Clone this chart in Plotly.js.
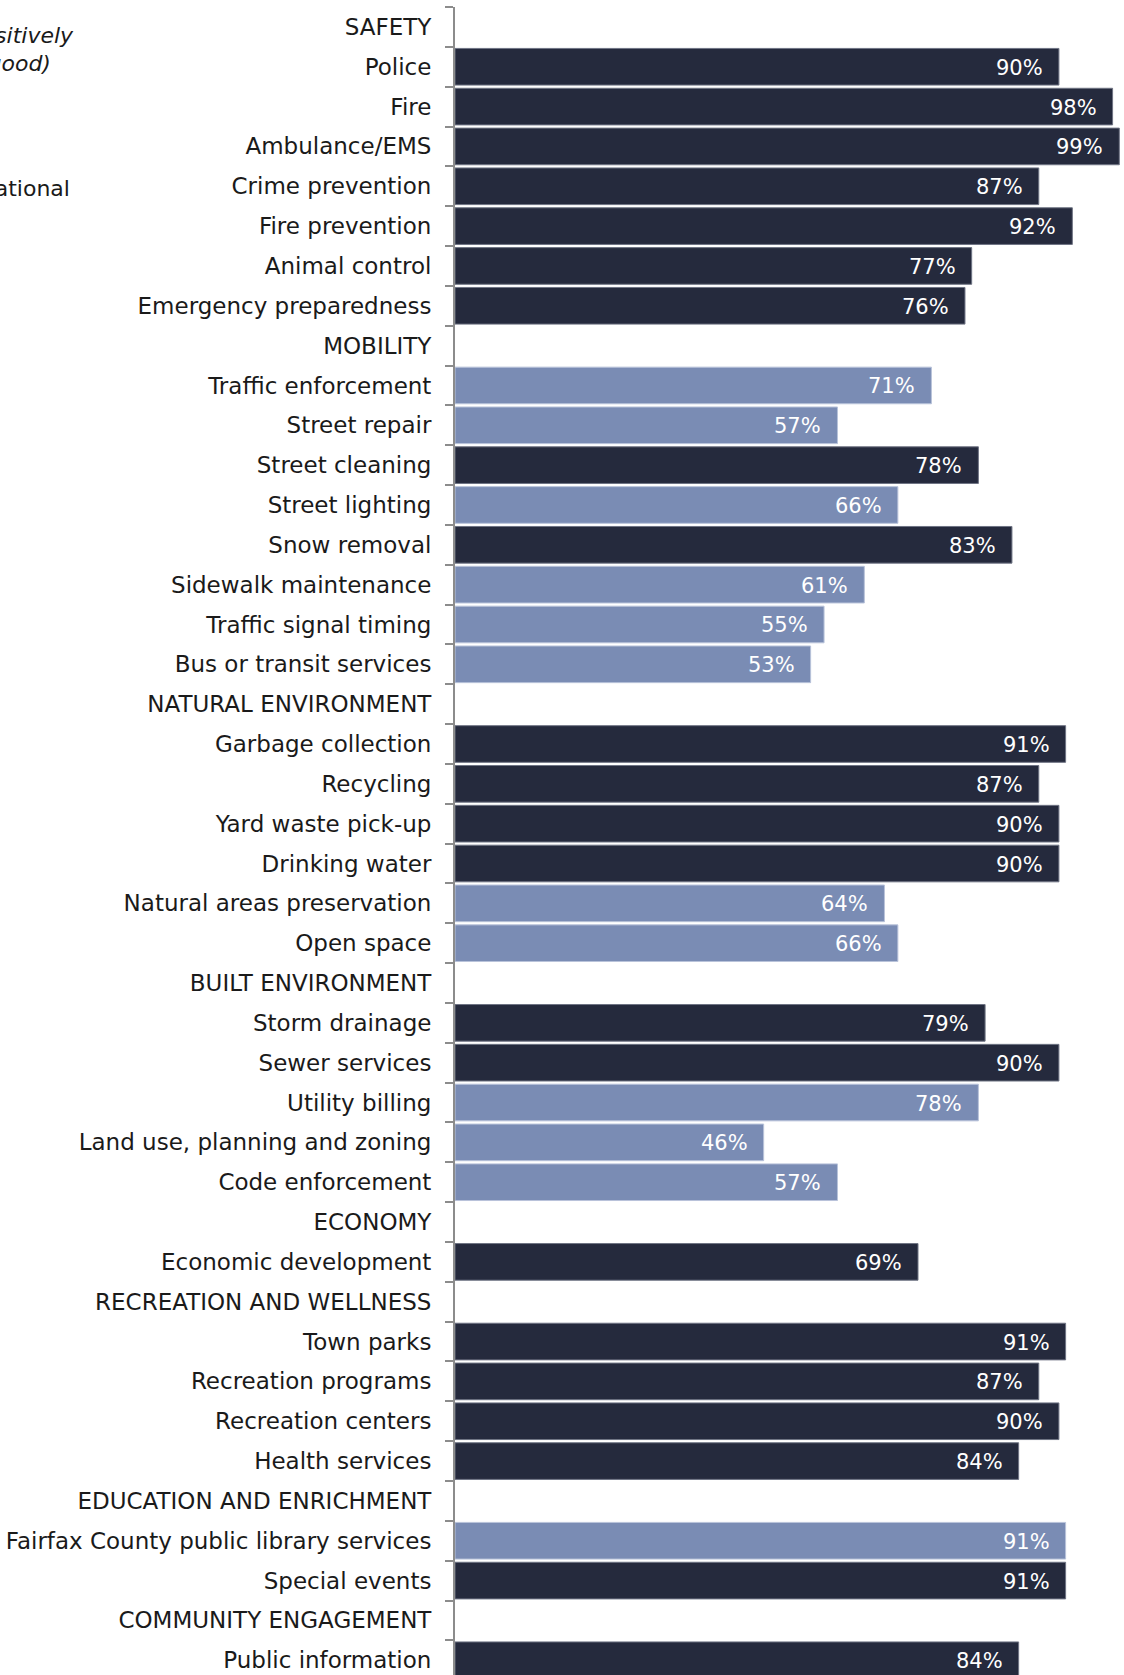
<!DOCTYPE html>
<html>
<head>
<meta charset="utf-8">
<script src="https://cdn.plot.ly/plotly-3.0.1.min.js"></script>
<style>
  html, body { margin: 0; padding: 0; background: #ffffff; }
  #chart { width: 1124px; height: 1675px; }
</style>
</head>
<body>
<div id="chart"></div>
<script>
// ---- data ----
const categories = [
  "SAFETY", "Police", "Fire", "Ambulance/EMS", "Crime prevention", "Fire prevention", "Animal control", "Emergency preparedness",
  "MOBILITY", "Traffic enforcement", "Street repair", "Street cleaning", "Street lighting", "Snow removal", "Sidewalk maintenance", "Traffic signal timing", "Bus or transit services",
  "NATURAL ENVIRONMENT", "Garbage collection", "Recycling", "Yard waste pick-up", "Drinking water", "Natural areas preservation", "Open space",
  "BUILT ENVIRONMENT", "Storm drainage", "Sewer services", "Utility billing", "Land use, planning and zoning", "Code enforcement",
  "ECONOMY", "Economic development",
  "RECREATION AND WELLNESS", "Town parks", "Recreation programs", "Recreation centers", "Health services",
  "EDUCATION AND ENRICHMENT", "Fairfax County public library services", "Special events",
  "COMMUNITY ENGAGEMENT", "Public information"
];
const percentPositive = [
  null, 90, 98, 99, 87, 92, 77, 76,
  null, 71, 57, 78, 66, 83, 61, 55, 53,
  null, 91, 87, 90, 90, 64, 66,
  null, 79, 90, 78, 46, 57,
  null, 69,
  null, 91, 87, 90, 84,
  null, 91, 91,
  null, 84
];
const comparisonToNational = [
  null, "similar", "similar", "similar", "similar", "similar", "similar", "similar",
  null, "lower", "lower", "similar", "lower", "similar", "lower", "lower", "lower",
  null, "similar", "similar", "similar", "similar", "lower", "lower",
  null, "similar", "similar", "lower", "lower", "lower",
  null, "similar",
  null, "similar", "similar", "similar", "similar",
  null, "lower", "similar",
  null, "similar"
];

// ---- styles ----
const FILL = { similar: "#252a3d", lower: "#7a8cb4" };
const EDGE = { similar: "#6f7484", lower: "#b9c3da" };
const FONT = "DejaVu Sans, sans-serif";

const W = 1124, H = 1675, ML = 455, MT = 7;
const px2paperX = px => (px - ML) / (W - ML);
const px2paperY = py => 1 - (py - MT) / (H - MT);

const bars = {
  type: "bar",
  orientation: "h",
  y: categories,
  x: percentPositive,
  marker: {
    color: comparisonToNational.map(c => c ? FILL[c] : "rgba(0,0,0,0)"),
    line: { width: 1, color: comparisonToNational.map(c => c ? EDGE[c] : "rgba(0,0,0,0)") }
  },
  hoverinfo: "y+x",
  showlegend: false
};

const valueLabels = [];
categories.forEach((c, i) => {
  if (percentPositive[i] == null) return;
  valueLabels.push({
    x: percentPositive[i], y: c, xref: "x", yref: "y",
    text: percentPositive[i] + "%",
    xanchor: "right", yanchor: "middle", xshift: -14, yshift: -1,
    showarrow: false,
    font: { family: FONT, size: 21, color: "#ffffff" }
  });
});

const sideNotes = [
  { text: "<i>(% rating positively</i>", xpx: 76, ypx: 35 },
  { text: "<i>(excellent/good)</i>", xpx: 53, ypx: 63 },
  { text: "Comparison to national", xpx: 72, ypx: 189 }
].map(n => ({
  xref: "paper", yref: "paper",
  x: px2paperX(n.xpx), y: px2paperY(n.ypx),
  xanchor: "right", yanchor: "middle",
  text: n.text, showarrow: false,
  font: { family: FONT, size: 22, color: "#1a1a1a" }
}));

const layout = {
  width: W, height: H,
  margin: { l: ML, r: 0, t: MT, b: 0, pad: 0 },
  paper_bgcolor: "#ffffff",
  plot_bgcolor: "#ffffff",
  bargap: 0.08,
  font: { family: FONT, size: 22, color: "#1a1a1a" },
  xaxis: {
    range: [0, 99.7],
    visible: false,
    fixedrange: true
  },
  yaxis: {
    type: "category",
    categoryorder: "array",
    categoryarray: categories,
    range: [41.37, -0.5],
    tickson: "boundaries",
    ticks: "outside",
    ticklen: 8,
    tickwidth: 2,
    tickcolor: "#8c8c8c",
    showline: true,
    linecolor: "#8c8c8c",
    linewidth: 2,
    showgrid: false,
    zeroline: false,
    ticklabelstandoff: 17,
    tickfont: { family: FONT, size: 23, color: "#1a1a1a" },
    automargin: false,
    fixedrange: true
  },
  annotations: valueLabels.concat(sideNotes)
};

Plotly.newPlot("chart", [bars], layout, { displayModeBar: false, staticPlot: true });
</script>
</body>
</html>
